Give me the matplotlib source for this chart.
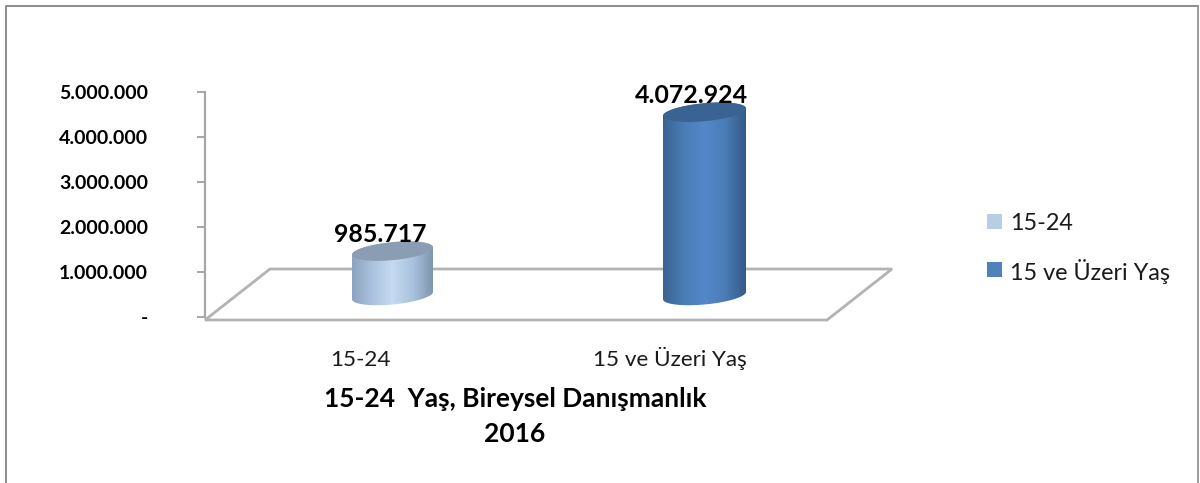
import numpy as np
import matplotlib
matplotlib.use('Agg')
import matplotlib.pyplot as plt
from matplotlib.patches import Polygon, Rectangle
from matplotlib.colors import LinearSegmentedColormap

categories = ['15-24', '15 ve Üzeri Yaş']
values = [985717, 4072924]
value_labels = ['985.717', '4.072.924']
y_ticks = [0, 1000000, 2000000, 3000000, 4000000, 5000000]
y_tick_labels = ['-', '1.000.000', '2.000.000', '3.000.000', '4.000.000', '5.000.000']
title_lines = ['15-24  Yaş, Bireysel Danışmanlık', '2016']
legend_colors = ['#b9cde5', '#4f81bd']

W, H = 1200, 483
plt.rcParams['font.family'] = 'Lato'
fig = plt.figure(figsize=(W/100, H/100), dpi=100)

AX_L, AX_R, AX_T, AX_B = 205, 825, 92, 317
ax = fig.add_axes([AX_L/W, 1-AX_B/H, (AX_R-AX_L)/W, (AX_B-AX_T)/H])
ax.set_xlim(0, 2)
ax.set_ylim(0, 5000000)
ax.patch.set_alpha(0)
for s in ['top', 'right', 'bottom']:
    ax.spines[s].set_visible(False)
ax.spines['left'].set_color('#a6a6a6')
ax.spines['left'].set_linewidth(1.6)
ax.set_yticks(y_ticks)
ax.set_yticklabels(y_tick_labels, fontsize=14, fontweight='bold', color='black')
ax.tick_params(axis='y', length=6, width=1.4, color='#a6a6a6', pad=35)
ax.set_xticks([0.5, 1.5])
ax.set_xticklabels(categories, fontsize=16.2, color='#1a1a1a')
ax.tick_params(axis='x', length=0, pad=35)
for lab in ax.get_xticklabels():
    lab.set_verticalalignment('baseline')

# overlay in reference pixel coordinates
pix = fig.add_axes([0, 0, 1, 1], zorder=3)
pix.set_xlim(0, W)
pix.set_ylim(H, 0)
pix.axis('off')

# outer frame
pix.plot([5.5, 5.5, 1198], [483, 6, 6], color='#8c8c8c', lw=1.4)
pix.plot([1198, 1198], [6, 483], color='#9a9a9a', lw=1.4)

# floor
pix.add_patch(Polygon([(205, 320), (270, 269), (892, 269), (827, 320)], closed=True,
                      facecolor='white', edgecolor='#b3b3b3', lw=2, zorder=1))

blue = LinearSegmentedColormap.from_list('b', ['#3a6392', '#4a7cb5', '#5388cb', '#4a7cb5', '#345a88'])
light = LinearSegmentedColormap.from_list('l', ['#8ca3bd', '#a9c2de', '#c6daf1', '#a9c2de', '#7f95ae'])
cmaps = [light, blue]
top_cols = ['#8b9db3', '#3a6393']
centers = [392.5, 704.5]
half_w = [40.5, 41.5]
label_dx = [-12.5, -13.5]
base_y = 295.5


def ellipse_pts(cx, cy, a, b, tilt, t):
    x = a*np.cos(t)
    y = b*np.sin(t)
    return np.column_stack([cx + x, cy + y - tilt*x/a])


for i, v in enumerate(values):
    cx, a = centers[i], half_w[i]
    # bar height comes from the value axis scale
    y0 = ax.transData.transform((0, 0))[1]
    y1 = ax.transData.transform((0, v))[1]
    top_y = base_y - (y1 - y0)
    b, tilt = 9, 3.7
    lower = ellipse_pts(cx, base_y, a, b, tilt, np.linspace(np.pi, 0, 60))
    upper = ellipse_pts(cx, top_y, a, b, tilt, np.linspace(0, -np.pi, 60))
    body_patch = Polygon(np.vstack([lower, upper]), closed=True, facecolor='none',
                         edgecolor='none', zorder=4)
    pix.add_patch(body_patch)
    grad = np.linspace(0, 1, 256).reshape(1, -1)
    im = pix.imshow(grad, cmap=cmaps[i], extent=[cx-a, cx+a, base_y+20, top_y-20],
                    aspect='auto', zorder=4, interpolation='bilinear')
    im.set_clip_path(body_patch)
    cap = ellipse_pts(cx, top_y, a, b, tilt, np.linspace(0, 2*np.pi, 100))
    pix.add_patch(Polygon(cap, closed=True, facecolor=top_cols[i], edgecolor='none', zorder=5))
    pix.text(cx + label_dx[i], top_y - 9.5, value_labels[i], ha='center', va='baseline',
             fontsize=17.9, fontweight='bold', color='black', zorder=6)

pix.set_xlim(0, W)
pix.set_ylim(H, 0)

# title
pix.text(515, 407, title_lines[0], ha='center', va='baseline', fontsize=19, fontweight='bold', color='black')
pix.text(515, 442, title_lines[1], ha='center', va='baseline', fontsize=19, fontweight='bold', color='black')

# legend
for (yy, c, lab) in zip([224, 272], legend_colors, categories):
    pix.add_patch(Rectangle((987, yy-10), 15, 15, facecolor=c, edgecolor='none'))
    pix.text(1010, yy, lab, ha='left', va='center', fontsize=16.8, color='#1a1a1a')

fig.savefig('out.png', dpi=100, facecolor='white')
